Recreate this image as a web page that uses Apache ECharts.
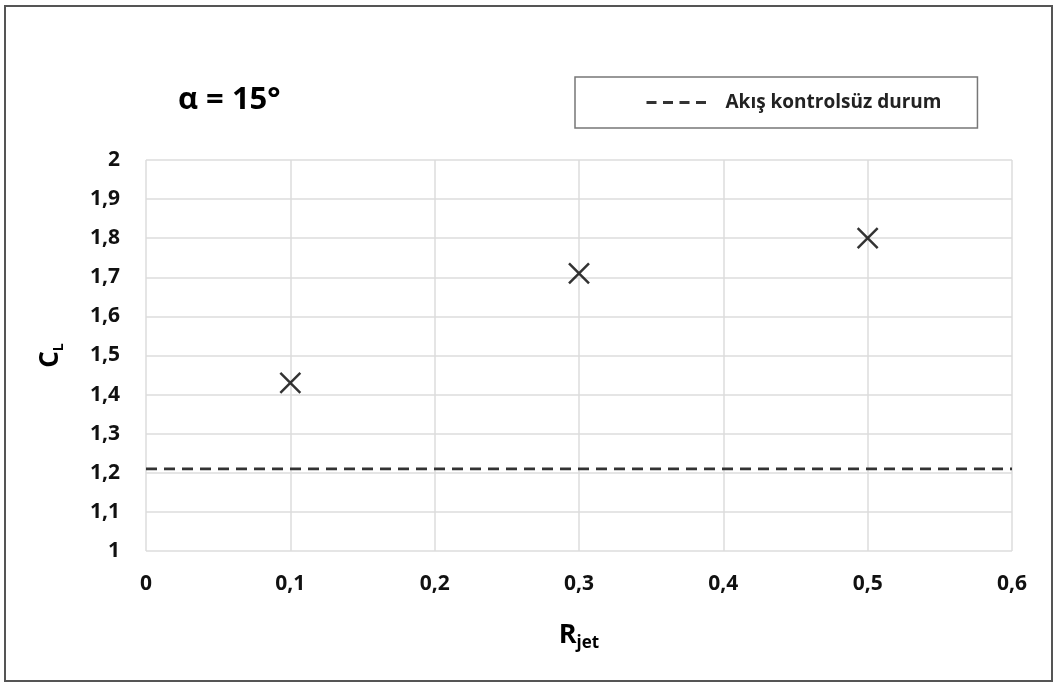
<!DOCTYPE html>
<html>
<head>
<meta charset="utf-8">
<script src="https://cdn.jsdelivr.net/npm/echarts@6/dist/echarts.min.js"></script>
<style>html,body{margin:0;padding:0;background:#fff}#c{width:1056px;height:682px}</style>
</head>
<body>
<div id="c"></div>
<script>
const xTicks = [0, 0.1, 0.2, 0.3, 0.4, 0.5, 0.6];
const yTicks = [1, 1.1, 1.2, 1.3, 1.4, 1.5, 1.6, 1.7, 1.8, 1.9, 2];
const rjet = [0.1, 0.3, 0.5];
const cl = [1.43, 1.71, 1.80];
const baselineName = 'Akış kontrolsüz durum';
const baselineValue = 1.21;
const baselineX = [0, 0.6];

const FONT = 'Open Sans';
const chart = echarts.init(document.getElementById('c'));
const fmt = v => String(Math.round(v * 10) / 10).replace('.', ',');
chart.setOption({
  animation: false,
  textStyle: { fontFamily: FONT },
  title: {
    text: 'α = 15°', left: 173, top: 80,
    textStyle: { fontFamily: FONT, fontSize: 31, fontWeight: 'bold', color: '#000' }
  },
  legend: {
    data: [baselineName],
    left: 575, top: 77,
    padding: [16, 36, 16, 70],
    borderColor: '#777', borderWidth: 1.5,
    itemWidth: 60, itemHeight: 14, itemGap: 18,
    itemStyle: { color: 'transparent', borderColor: 'transparent', borderWidth: 0 },
    lineStyle: { type: [10, 6.5], width: 3, color: '#333' },
    textStyle: { fontFamily: FONT, fontSize: 19, fontWeight: 'bold', color: '#222', padding: [0, 0, 0, 14] }
  },
  grid: { left: 146, top: 160, right: 44, bottom: 131 },
  xAxis: {
    type: 'value', min: 0, max: 0.6, interval: 0.1,
    name: '{a|R}{b|jet}', nameLocation: 'middle', nameGap: 68,
    nameTextStyle: { rich: {
      a: { fontFamily: FONT, fontSize: 27, fontWeight: 'bold', color: '#000' },
      b: { fontFamily: FONT, fontSize: 17, fontWeight: 'bold', color: '#000', padding: [16, 0, 0, 0] }
    } },
    axisLine: { show: false }, axisTick: { show: false },
    axisLabel: { margin: 23, fontFamily: FONT, fontSize: 21, fontWeight: 'bold', color: '#111', formatter: fmt },
    splitLine: { show: true, lineStyle: { color: '#dcdcdc', width: 1.5 } }
  },
  yAxis: {
    type: 'value', min: 1, max: 2, interval: 0.1,
    name: '{a|C}{b|L}', nameLocation: 'middle', nameGap: 80, nameRotate: 90,
    nameTextStyle: { rich: {
      a: { fontFamily: FONT, fontSize: 26, fontWeight: 'bold', color: '#000' },
      b: { fontFamily: FONT, fontSize: 14, fontWeight: 'bold', color: '#000', padding: [16, 0, 0, 0] }
    } },
    axisLine: { show: false }, axisTick: { show: false },
    axisLabel: { margin: 26, fontFamily: FONT, fontSize: 21, fontWeight: 'bold', color: '#111', formatter: fmt },
    splitLine: { show: true, lineStyle: { color: '#dcdcdc', width: 1.5 } }
  },
  series: [
    {
      type: 'scatter', name: 'CL',
      data: rjet.map((x, i) => [x, cl[i]]),
      symbol: 'path://M0,0L20,20M20,0L0,20', symbolSize: 20,
      itemStyle: { color: 'transparent', borderColor: '#000', borderWidth: 2.5 }
    },
    {
      type: 'line', name: baselineName,
      data: baselineX.map(x => [x, baselineValue]),
      symbol: 'none', showSymbol: false,
      lineStyle: { color: '#333', width: 2.6, type: [11, 7] },
      itemStyle: { color: '#333' }
    }
  ],
  graphic: [{
    type: 'rect', shape: { x: 5, y: 6, width: 1047, height: 675 },
    style: { fill: 'none', stroke: '#555', lineWidth: 2 }, silent: true
  }]
});
</script>
</body>
</html>
